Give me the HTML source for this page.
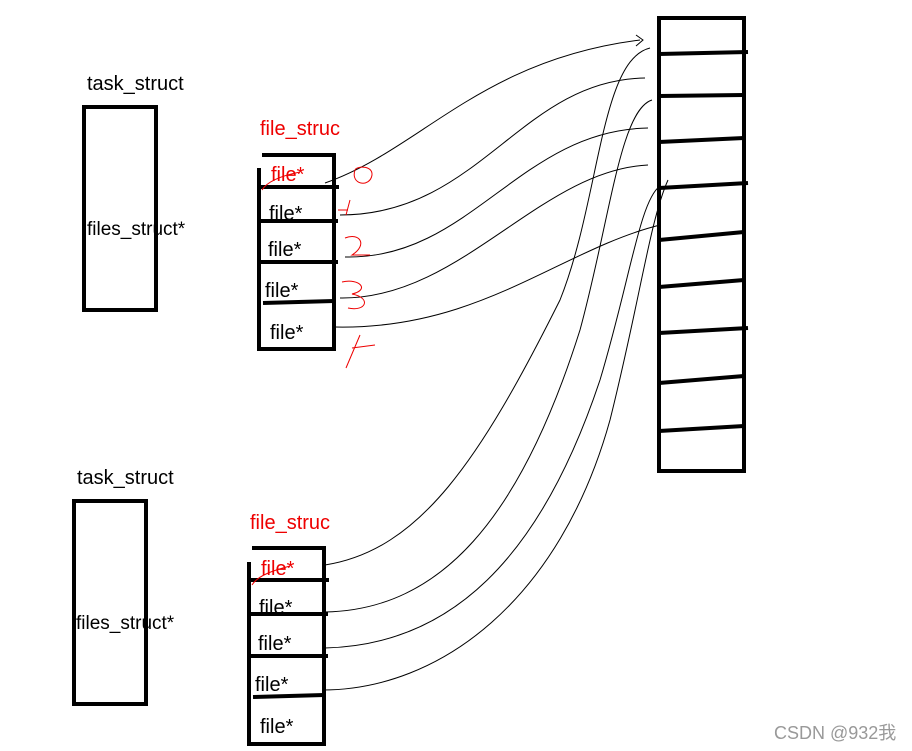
<!DOCTYPE html>
<html><head><meta charset="utf-8"><style>
html,body{margin:0;padding:0;background:#fff;}
svg{display:block}
text{font-family:"Liberation Sans","Noto Sans CJK SC",sans-serif;font-size:20px}
</style></head><body>
<svg width="912" height="751" viewBox="0 0 912 751" xmlns="http://www.w3.org/2000/svg">
<g fill="none" stroke="#000" stroke-width="4">
<rect x="659" y="18" width="85" height="453"/>
<line x1="659" y1="54" x2="748" y2="52"/>
<line x1="659" y1="96" x2="744" y2="95"/>
<line x1="659" y1="142" x2="744" y2="138"/>
<line x1="659" y1="188" x2="748" y2="183"/>
<line x1="659" y1="240" x2="744" y2="232"/>
<line x1="659" y1="287" x2="744" y2="280"/>
<line x1="659" y1="333" x2="748" y2="328"/>
<line x1="659" y1="383" x2="744" y2="376"/>
<line x1="659" y1="431" x2="744" y2="426"/>
<rect x="84" y="107" width="72" height="203"/>
<polyline points="262,155 334,155 334,349 259,349 259,168"/>
<line x1="259" y1="187" x2="339" y2="187"/>
<line x1="259" y1="221" x2="338" y2="221"/>
<line x1="259" y1="262" x2="338" y2="262"/>
<line x1="263" y1="303" x2="334" y2="301"/>
<rect x="74" y="501" width="72" height="203"/>
<polyline points="252,548 324,548 324,744 249,744 249,562"/>
<line x1="249" y1="580" x2="329" y2="580"/>
<line x1="249" y1="614" x2="328" y2="614"/>
<line x1="249" y1="656" x2="328" y2="656"/>
<line x1="253" y1="697" x2="324" y2="695"/>
</g>
<g fill="none" stroke="#000" stroke-width="1">
<path d="M325,183 C420,150 480,60 640,40"/>
<path d="M636,35 L643,40 L636,46"/>
<path d="M340,215 C480,215 520,80 645,78"/>
<path d="M345,257 C470,260 520,130 648,128"/>
<path d="M340,298 C460,300 540,170 648,165"/>
<path d="M335,327 C480,330 560,250 660,225"/>
<path d="M325,565 C420,550 480,460 560,300 C600,200 600,60 650,48"/>
<path d="M325,612 C440,610 520,520 580,330 C610,220 620,110 652,100"/>
<path d="M325,648 C450,645 540,560 600,380 C630,280 640,200 660,186"/>
<path d="M322,690 C440,690 560,600 610,420 C640,300 650,220 668,180"/>
</g>
<g fill="none" stroke="#e00" stroke-width="1">
<path d="M355,170 C350,185 370,188 372,175 C373,165 356,166 355,170"/>
<path d="M350,200 L346,215 M338,210 L348,210"/>
<path d="M345,238 C360,232 368,245 352,255 L370,255"/>
<path d="M342,282 C360,278 370,290 352,294 C372,298 366,312 348,308"/>
<path d="M360,335 L346,368 M352,348 L375,345"/>
<path d="M262,190 C268,180 285,175 300,172"/>
<path d="M252,585 C258,575 275,570 290,566"/>
</g>
<text x="87" y="90">task_struct</text>
<text x="87" y="235" style="font-size:19px">files_struct*</text>
<text x="260" y="135" fill="#e00">file_struc</text>
<text x="271" y="181" fill="#e00">file*</text>
<text x="269" y="220">file*</text>
<text x="268" y="256">file*</text>
<text x="265" y="297">file*</text>
<text x="270" y="339">file*</text>
<text x="77" y="484">task_struct</text>
<text x="76" y="629" style="font-size:19px">files_struct*</text>
<text x="250" y="529" fill="#e00">file_struc</text>
<text x="261" y="575" fill="#e00">file*</text>
<text x="259" y="614">file*</text>
<text x="258" y="650">file*</text>
<text x="255" y="691">file*</text>
<text x="260" y="733">file*</text>
<text x="774" y="739" fill="#999" style="font-size:18px">CSDN @932我</text>
</svg>
</body></html>
